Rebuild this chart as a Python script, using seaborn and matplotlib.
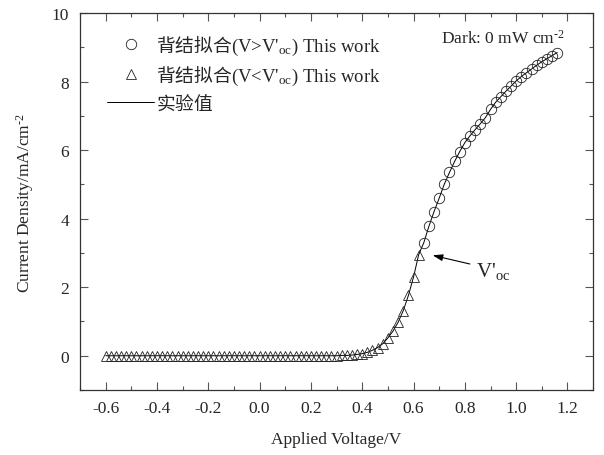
import matplotlib
matplotlib.use("Agg")
import matplotlib.pyplot as plt
import seaborn as sns
from matplotlib.lines import Line2D
from matplotlib.ticker import MultipleLocator, FixedLocator

# data
v_low = [-0.60, -0.58, -0.56, -0.54, -0.52, -0.50, -0.48, -0.46, -0.44, -0.42,
         -0.40, -0.38, -0.36, -0.34, -0.32, -0.30, -0.28, -0.26, -0.24, -0.22,
         -0.20, -0.18, -0.16, -0.14, -0.12, -0.10, -0.08, -0.06, -0.04, -0.02,
         0.00, 0.02, 0.04, 0.06, 0.08, 0.10, 0.12, 0.14, 0.16, 0.18,
         0.20, 0.22, 0.24, 0.26, 0.28, 0.30, 0.32, 0.34, 0.36, 0.38,
         0.40, 0.42, 0.44, 0.46, 0.48, 0.50, 0.52, 0.54, 0.56, 0.58,
         0.60, 0.62]
j_low = [0.00] * 46 + [0.01, 0.01, 0.02, 0.04, 0.06, 0.10, 0.16, 0.24, 0.35, 0.52,
                       0.72, 0.98, 1.32, 1.76, 2.30, 2.95]

v_high = [0.64, 0.66, 0.68, 0.70, 0.72, 0.74, 0.76, 0.78, 0.80, 0.82,
          0.84, 0.86, 0.88, 0.90, 0.92, 0.94, 0.96, 0.98, 1.00, 1.02,
          1.04, 1.06, 1.08, 1.10, 1.12, 1.14, 1.16]
j_high = [3.30, 3.78, 4.21, 4.60, 5.01, 5.35, 5.67, 5.96, 6.22, 6.42,
          6.60, 6.77, 6.95, 7.19, 7.40, 7.56, 7.72, 7.87, 8.02, 8.15,
          8.26, 8.37, 8.48, 8.58, 8.67, 8.76, 8.85]

x_ticks = [-0.6, -0.4, -0.2, 0.0, 0.2, 0.4, 0.6, 0.8, 1.0, 1.2]
x_tick_labels = ["-0.6", "-0.4", "-0.2", "0.0", "0.2", "0.4", "0.6", "0.8", "1.0", "1.2"]
y_ticks = [0, 2, 4, 6, 8, 10]

sns.set_style("ticks")
plt.rcParams['font.family'] = ['Liberation Serif', 'Noto Sans CJK SC']
plt.rcParams['mathtext.fontset'] = 'custom'
plt.rcParams['mathtext.rm'] = 'Liberation Serif'
plt.rcParams['mathtext.it'] = 'Liberation Serif:italic'
plt.rcParams['mathtext.sf'] = 'Noto Sans CJK SC'
plt.rcParams['axes.unicode_minus'] = False

fig = plt.figure(figsize=(6.04, 4.56), dpi=100)
ax = fig.add_axes([0.1325, 0.1425, 0.8495, 0.8265])

v_all = v_low + v_high
j_all = j_low + j_high
sns.lineplot(x=v_all, y=j_all, ax=ax, color="black", linewidth=0.7,
             estimator=None, sort=True)
sns.lineplot(x=v_low, y=j_low, ax=ax, estimator=None, linestyle="none",
             marker="^", markersize=7.5, markerfacecolor="none",
             markeredgecolor="#222222", markeredgewidth=0.6)
sns.lineplot(x=v_high, y=j_high, ax=ax, estimator=None, linestyle="none",
             marker="o", markersize=7.5, markerfacecolor="none",
             markeredgecolor="#222222", markeredgewidth=0.6)

ax.set_xlim(-0.7, 1.3)
ax.set_ylim(-1, 10)
ax.xaxis.set_major_locator(FixedLocator(x_ticks))
ax.set_xticklabels(x_tick_labels)
ax.xaxis.set_minor_locator(MultipleLocator(0.1))
ax.yaxis.set_major_locator(FixedLocator(y_ticks))
ax.yaxis.set_minor_locator(MultipleLocator(1))
ax.tick_params(which="both", direction="in", top=True, right=True,
               color="#555555", labelsize=12.5, width=0.8)
ax.tick_params(which="major", length=6)
ax.tick_params(which="minor", length=3)
ax.tick_params(axis="x", pad=7)
ax.tick_params(axis="y", pad=8)
for s in ax.spines.values():
    s.set_color("#333333")
    s.set_linewidth(0.9)

ax.set_xlabel("Applied Voltage/V", fontsize=12.5, labelpad=11)
ax.set_ylabel("Current Density/mA/cm$^{\\text{-}2}$", fontsize=12.5, labelpad=11)

handles = [
    Line2D([], [], linestyle="none", marker="o", markersize=7.5,
           markerfacecolor="none", markeredgecolor="#222222", markeredgewidth=0.6),
    Line2D([], [], linestyle="none", marker="^", markersize=7.5,
           markerfacecolor="none", markeredgecolor="#222222", markeredgewidth=0.6),
    Line2D([], [], color="black", linewidth=0.7),
]
labels = [
    "$\\mathsf{背结拟合}$(V>V$'_{\\mathrm{oc}}$) This work",
    "$\\mathsf{背结拟合}$(V<V$'_{\\mathrm{oc}}$) This work",
    "$\\mathsf{实验值}$",
]
ax.legend(handles, labels, loc="upper left", bbox_to_anchor=(0.053, 0.948),
          frameon=False, fontsize=13.5, handlelength=2.5, handletextpad=0.1,
          labelspacing=0.3, borderpad=0, borderaxespad=0)

ax.text(0.945, 0.935, "Dark: 0 mW cm$^{\\text{-}2}$", transform=ax.transAxes,
        ha="right", va="center", fontsize=12.5)

ax.annotate("", xy=(0.664, 2.95), xytext=(0.83, 2.66),
            arrowprops=dict(arrowstyle="-|>,head_length=0.6,head_width=0.2",
                            color="black", linewidth=0.8))
ax.text(0.845, 2.5, "V$'_{\\mathrm{oc}}$", fontsize=15, ha="left", va="center")

fig.savefig("out.png", dpi=100)
